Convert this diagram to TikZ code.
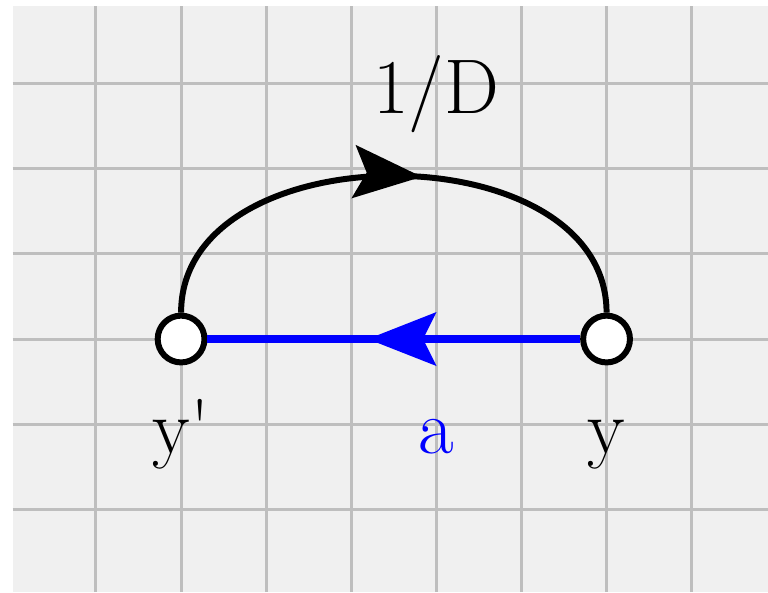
\documentclass[tikz,border=0pt]{standalone}
\usetikzlibrary{arrows.meta,decorations.markings}
\definecolor{gridgray}{RGB}{190,190,190}
\definecolor{paper}{RGB}{240,240,240}

\begin{document}
\begin{tikzpicture}[
  font=\fontsize{25.9}{31}\selectfont,
  vertex/.style={circle,draw,fill=white,line width=2pt,minimum size=0.55cm,inner sep=0pt},
  midarrow/.style={postaction={decorate},decoration={markings,
    mark=at position #1 with {\arrow{Stealth[length=0.8cm,width=0.62cm,inset=0.15cm]}}}}
]
\useasboundingbox (-2.128,-2.973) rectangle (6.897,3.984);
\fill[paper] (-1.979,-2.973) rectangle (6.897,3.913);
\draw[gridgray,line width=1pt,step=1] (-1.979,-2.973) grid (6.897,3.913);
% the two points
\node[vertex] (yp) at (0,0) {};
\node[vertex] (y) at (5,0) {};
% connectors
\draw[line width=2pt,midarrow=0.55] (yp) to[bend left=90,looseness=1.1] (y);
\draw[blue,line width=2.6pt,midarrow=0.57] (y) -- (yp);
% labels
\node[anchor=base] (lyp) at (0,-1.35) {y\textquotesingle};
\node[anchor=base] (ly) at (5,-1.35) {y};
\node[anchor=base,blue] (la) at (3,-1.35) {a};
\node[anchor=base] (lD) at (3,2.65) {1/D};
\end{tikzpicture}
\end{document}
